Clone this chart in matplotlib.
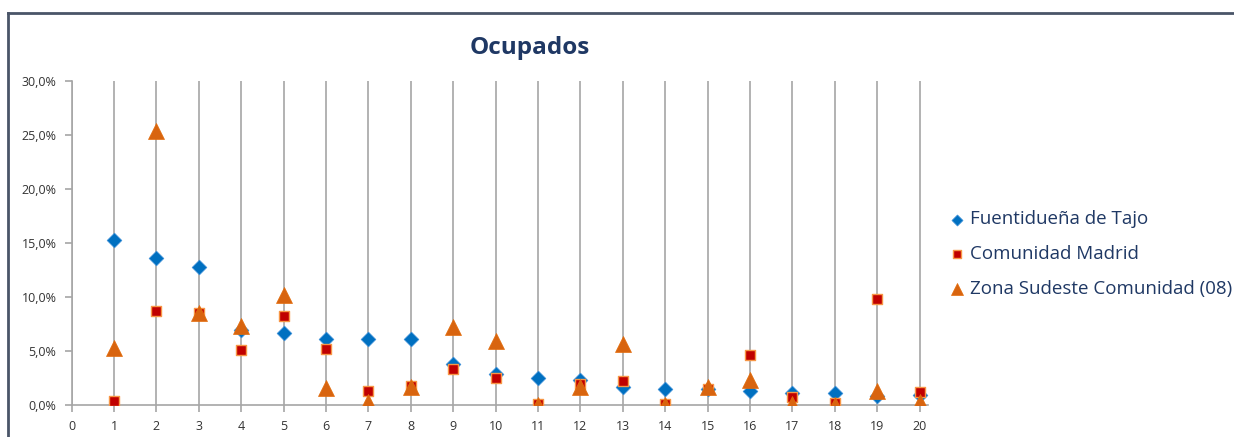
import matplotlib
matplotlib.use("Agg")
import matplotlib.pyplot as plt
from matplotlib.ticker import FuncFormatter, MultipleLocator
from matplotlib.lines import Line2D

plt.rcParams['font.family'] = ['Open Sans', 'DejaVu Sans']

x = list(range(1, 21))
fuentiduena = [15.3, 13.6, 12.8, 6.9, 6.7, 6.1, 6.1, 6.1, 3.8, 2.9,
               2.5, 2.3, 1.7, 1.5, 1.5, 1.3, 1.1, 1.1, 0.8, 0.9]
comunidad = [0.4, 8.7, 8.5, 5.1, 8.2, 5.2, 1.3, 1.8, 3.3, 2.5,
             0.05, 1.9, 2.25, 0.05, 1.5, 4.6, 0.7, 0.15, 9.8, 1.2]
sudeste = [5.25, 25.4, 8.5, 7.35, 10.2, 1.55, 0.3, 1.7, 7.25, 5.95,
           0.0, 1.7, 5.65, 0.0, 1.7, 2.3, 0.05, 0.0, 1.3, 0.3]
labels = ["Fuentidueña de Tajo", "Comunidad Madrid", "Zona Sudeste Comunidad (08)"]

W, H = 1234, 437
fig = plt.figure(figsize=(W / 100, H / 100), dpi=100)
ax = fig.add_axes([71.7 / W, 1 - 405 / H, (928 - 71.7) / W, (405 - 81) / H])

grid_c = '#A6A6A6'
ax.scatter(x, fuentiduena, marker='D', s=7.5**2, color='#0070C0', edgecolors='#3C8FD8',
           linewidths=0.5, zorder=3, label=labels[0])
ax.scatter(x, comunidad, marker='s', s=7**2, color='#C00000', edgecolors='#F79646',
           linewidths=1.0, zorder=4, label=labels[1])
ax.scatter(x, sudeste, marker='^', s=11.5**2, color='#D8640F', edgecolors='#E46C0A',
           linewidths=0.5, zorder=5, label=labels[2])

ax.set_xlim(0, 20.2)
ax.set_ylim(0, 30)
ax.xaxis.set_major_locator(MultipleLocator(1))
ax.yaxis.set_major_locator(MultipleLocator(5))
ax.yaxis.set_major_formatter(FuncFormatter(lambda v, p: f"{v:.1f}%".replace('.', ',')))
ax.grid(axis='x', color=grid_c, linewidth=1.2, zorder=1)
ax.set_axisbelow(True)
for s in ['top', 'right']:
    ax.spines[s].set_visible(False)
for s in ['left', 'bottom']:
    ax.spines[s].set_color(grid_c)
    ax.spines[s].set_linewidth(1.2)
ax.tick_params(axis='both', colors=grid_c, length=5, width=1.2, labelsize=9,
               labelcolor='#333333')
ax.tick_params(axis='x', pad=6)
ax.tick_params(axis='y', pad=6)

fig.text(530 / W, 1 - 48 / H, "Ocupados", ha='center', va='center', fontsize=17.5,
         fontweight='bold', color='#1F3864')

leg = ax.legend(loc='upper left', bbox_to_anchor=(942 / W, 1 - 203 / H),
                bbox_transform=fig.transFigure, frameon=False, fontsize=13.5,
                labelcolor='#1F3864', handlelength=0.8, handletextpad=0.3,
                labelspacing=0.9, markerscale=0.75, borderaxespad=0)

# outer chart frame
fig.add_artist(Line2D([8 / W, 1.0], [1 - 13 / H, 1 - 13 / H], transform=fig.transFigure,
                      color='#4A5568', linewidth=2))
fig.add_artist(Line2D([8 / W, 8 / W], [1 - 13 / H, 0], transform=fig.transFigure,
                      color='#4A5568', linewidth=2))

fig.savefig("out.png", dpi=100)
